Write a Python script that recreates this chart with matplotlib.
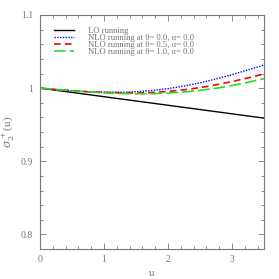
import matplotlib
matplotlib.use("Agg")
import matplotlib.pyplot as plt
from matplotlib.ticker import MultipleLocator

plt.rcParams['font.family'] = ['Liberation Serif', 'DejaVu Serif']
plt.rcParams['mathtext.fontset'] = 'dejavuserif'

u = [0.0, 0.25, 0.5, 0.75, 1.0, 1.25, 1.5, 1.75, 2.0, 2.25, 2.5, 2.75, 3.0, 3.25, 3.5]
lo_u = [0.0, 3.5]
lo = [1.0, 0.959]
nlo_0 = [1.0, 0.998, 0.9965, 0.9953, 0.9946, 0.9944, 0.9950, 0.9968, 0.9993, 1.0028, 1.0072, 1.0125, 1.0185, 1.0250, 1.0315]
nlo_05 = [1.0, 0.998, 0.9965, 0.9950, 0.9940, 0.9934, 0.9933, 0.9940, 0.9955, 0.9977, 1.0007, 1.0045, 1.0090, 1.0140, 1.0195]
nlo_1 = [1.0, 0.998, 0.9963, 0.9947, 0.9935, 0.9926, 0.9922, 0.9924, 0.9933, 0.9948, 0.9970, 0.9998, 1.0035, 1.0080, 1.0130]
labels = ["LO running",
          "NLO running at \u03b8= 0.0, \u03b1= 0.0",
          "NLO running at \u03b8= 0.5, \u03b1= 0.0",
          "NLO running at \u03b8= 1.0, \u03b1= 0.0"]

gray = '#777777'
fig = plt.figure(figsize=(2.79, 2.79), dpi=100)
ax = fig.add_axes([40/279, 30/279, 224/279, 234/279])
ax.plot(lo_u, lo, color='black', lw=1.0, label=labels[0])
ax.plot(u, nlo_0, color='blue', lw=1.0, linestyle=(0, (1, 1)), label=labels[1])
ax.plot(u, nlo_05, color='red', lw=1.2, linestyle=(0, (4, 2.5)), label=labels[2])
ax.plot(u, nlo_1, color='#22dd22', lw=1.2, linestyle=(0, (7, 2.5)), label=labels[3])

ax.set_xlim(0, 3.5)
ax.set_ylim(0.78, 1.1)
ax.xaxis.set_major_locator(MultipleLocator(1))
ax.xaxis.set_minor_locator(MultipleLocator(0.2))
ax.yaxis.set_major_locator(MultipleLocator(0.1))
ax.yaxis.set_minor_locator(MultipleLocator(0.02))
ax.set_xticks([0, 1, 2, 3])
ax.set_xticklabels(['0', '1', '2', '3'])
ax.set_yticks([0.8, 0.9, 1.0, 1.1])
ax.set_yticklabels(['0.8', '0.9', '1', '1.1'])
ax.tick_params(which='both', direction='in', top=True, right=True, colors=gray,
               labelsize=7, labelcolor=gray, width=0.6)
ax.tick_params(which='major', length=4)
ax.tick_params(axis='x', which='major', pad=4)
ax.tick_params(axis='y', which='major', pad=5)
ax.tick_params(which='minor', length=2)
for s in ax.spines.values():
    s.set_color(gray)
    s.set_linewidth(0.8)
ax.set_xlabel('u', fontsize=8, color=gray, labelpad=4)
ax.set_ylabel(r'$\sigma_2^+$(u)', fontsize=8, color=gray, labelpad=3)

leg = ax.legend(loc='upper left', frameon=False, fontsize=6.2, handlelength=2.4,
                handletextpad=1.6, labelspacing=-0.12, borderaxespad=0.0,
                bbox_to_anchor=(0.045, 0.965))
for t in leg.get_texts():
    t.set_color(gray)

fig.savefig('out.png', dpi=100)
